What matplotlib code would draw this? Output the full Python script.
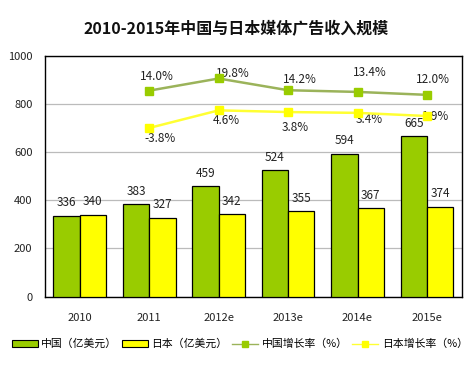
import numpy as np
import matplotlib
matplotlib.use('Agg')
import matplotlib.pyplot as plt
from matplotlib.patches import Patch
from matplotlib.lines import Line2D

plt.rcParams['font.family'] = ['Noto Sans CJK SC', 'DejaVu Sans']

years = ['2010', '2011', '2012e', '2013e', '2014e', '2015e']
china = [336, 383, 459, 524, 594, 665]
japan = [340, 327, 342, 355, 367, 374]
china_rate = [14.0, 19.8, 14.2, 13.4, 12.0]   # 2011 - 2015e
japan_rate = [-3.8, 4.6, 3.8, 3.4, 1.9]

green = '#99CC00'
yellow = '#FFFF00'
green_line = '#9BB35A'
yellow_line = '#FFFF33'

fig = plt.figure(figsize=(4.73, 3.72), dpi=100)
ax = fig.add_axes([0.0951, 0.2024, 0.881, 0.648])

x = np.arange(len(years))
w = 0.38
b1 = ax.bar(x - w/2, china, w, color=green, edgecolor='black', linewidth=0.9, zorder=3)
b2 = ax.bar(x + w/2, japan, w, color=yellow, edgecolor='black', linewidth=0.9, zorder=3)

for rects, vals in ((b1, china), (b2, japan)):
    for r, v in zip(rects, vals):
        ax.annotate(str(v), (r.get_x() + r.get_width()/2, v), xytext=(0, 13),
                    textcoords='offset pixels', ha='center', va='center',
                    fontsize=8.5, color='#222222', zorder=5)

ax.set_xlim(-0.5, len(years) - 0.5)
ax.set_ylim(0, 1000)
ax.set_yticks([0, 200, 400, 600, 800, 1000])
ax.set_xticks(x)
ax.set_xticklabels(years)
ax.tick_params(axis='both', length=0, labelsize=8, colors='#222222')
ax.tick_params(axis='y', pad=9)
ax.tick_params(axis='x', pad=12)
ax.yaxis.grid(True, color='#BBBBBB', linewidth=0.9, zorder=0)
ax.set_axisbelow(True)
for s in ax.spines.values():
    s.set_color('black')
    s.set_linewidth(1.0)

# growth rate on hidden secondary axis
ax2 = ax.twinx()
ax2.set_ylim(-84.3, 30.7)
ax2.set_axis_off()
xr = x[1:]
ax2.plot(xr, china_rate, color=green_line, linewidth=1.8, marker='s', markersize=5.5,
         markerfacecolor=green, markeredgecolor=green, zorder=4)
ax2.plot(xr, japan_rate, color=yellow_line, linewidth=1.8, marker='s', markersize=5.5,
         markerfacecolor=yellow, markeredgecolor=yellow, zorder=4)

china_off = [(8, 14), (14, 5), (12, 11), (12, 19), (6, 15)]
japan_off = [(11, -11), (8, -10), (7, -15), (12, -7), (9, 0)]
for xi, v, off in zip(xr, china_rate, china_off):
    ax2.annotate('%.1f%%' % v, (xi, v), xytext=off, textcoords='offset pixels',
                 ha='center', va='center', fontsize=8.5, color='#222222')
for xi, v, off in zip(xr, japan_rate, japan_off):
    ax2.annotate('%.1f%%' % v, (xi, v), xytext=off, textcoords='offset pixels',
                 ha='center', va='center', fontsize=8.5, color='#222222')

fig.text(0.5, 0.922, '2010-2015年中国与日本媒体广告收入规模', ha='center', va='center',
         fontsize=11.5, fontweight='bold', color='#111111')

handles = [
    Patch(facecolor=green, edgecolor='black', linewidth=0.8),
    Patch(facecolor=yellow, edgecolor='black', linewidth=0.8),
    Line2D([], [], color=green_line, marker='s', markersize=4,
           markerfacecolor=green, markeredgecolor=green, linewidth=1),
    Line2D([], [], color=yellow_line, marker='s', markersize=4,
           markerfacecolor=yellow, markeredgecolor=yellow, linewidth=1),
]
labels = ['中国（亿美元）', '日本（亿美元）', '中国增长率（%）', '日本增长率（%）']
fig.legend(handles, labels, loc='center', bbox_to_anchor=(0.507, 0.075), ncol=4,
           frameon=False, fontsize=7.8, handlelength=2.4, handleheight=0.6,
           handletextpad=0.3, columnspacing=0.45)

fig.savefig('out.png', dpi=100)
